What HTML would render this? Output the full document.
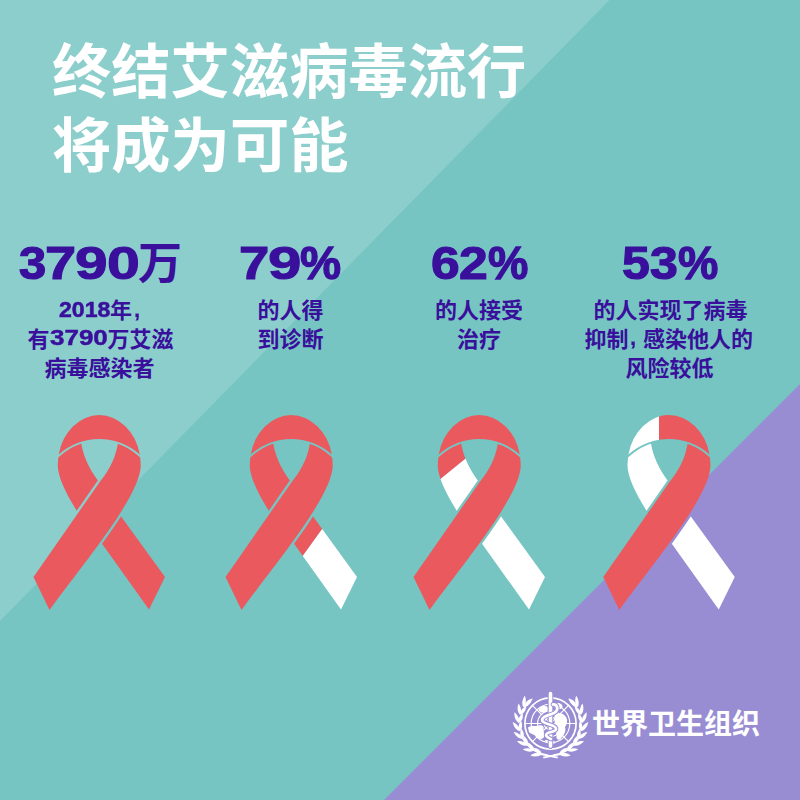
<!DOCTYPE html>
<html lang="zh-Hans">
<head>
<meta charset="utf-8">
<title>终结艾滋病毒流行将成为可能</title>
<style>
html,body{margin:0;padding:0;}
body{width:800px;height:800px;overflow:hidden;background:#76c5c2;font-family:"Liberation Sans",sans-serif;}
.card{position:relative;width:800px;height:800px;overflow:hidden;background:#76c5c2;}
.card svg.art{position:absolute;left:0;top:0;width:800px;height:800px;display:block;}
.stat,.big,.sub,footer,h1{margin:0;padding:0;font-size:0;line-height:0;}
.sr{position:absolute;left:0;top:0;width:1px;height:1px;margin:-1px;padding:0;overflow:hidden;clip:rect(0 0 0 0);clip-path:inset(50%);white-space:nowrap;border:0;font-size:1px;color:transparent;}
.d{position:absolute;display:block;margin:0;padding:0;white-space:nowrap;line-height:normal;
   font-family:"Liberation Sans",sans-serif;font-weight:700;color:#390f9c;transform-origin:0 0;}
</style>
</head>
<body>
<main class="card">
<svg class="art" viewBox="0 0 800 800" width="800" height="800" role="img" aria-label="终结艾滋病毒流行将成为可能。2018年，有3790万艾滋病毒感染者；79%的人得到诊断；62%的人接受治疗；53%的人实现了病毒抑制，感染他人的风险较低。世界卫生组织">
<defs>
<path id="rCap" d="M-40.57,39.5A41.5,50 0 0 1 40.57,39.5A60.85,60.85 0 0 0 -40.57,39.5Z"/>
<path id="rFront" d="M19.2,24C17.5,41 10.8,54.3 1.0,66.2L-65.75,162L-49.75,195C-13.90,146.00 41.50,80.60 41.50,50.00A41.5,50 0 0 0 39.59,35L30,24Z"/>
<path id="rBackUp" d="M-18.6,24C-17,40 -10,54 -0.9,66.25L4,71L-14,103L-22.08,96.41C-33.71,77.84 -41.50,61.47 -41.50,50.00A41.5,50 0 0 1 -39.59,35L-30,24Z"/>
<path id="rBackLo" d="M18.6,97L65.75,162L49.75,194.5L0.85,126Z"/>
<mask id="mCap" maskUnits="userSpaceOnUse" x="-90" y="-10" width="180" height="220"><rect x="-90" y="-10" width="180" height="220" fill="#fff"/><use href="#rCap" fill="#000" stroke="#000" stroke-width="4"/></mask>
<mask id="mBack" maskUnits="userSpaceOnUse" x="-90" y="-10" width="180" height="220"><rect x="-90" y="-10" width="180" height="220" fill="#fff"/><use href="#rCap" fill="#000" stroke="#000" stroke-width="4"/><use href="#rFront" fill="#000" stroke="#000" stroke-width="4.8"/></mask>
<clipPath id="c2"><path d="M89.25,33.25L-47.25,222.25L110,230L110,30Z"/></clipPath>
<clipPath id="c3"><path d="M-87,103.25L81,-33.25L110,-33L110,230L-87,230Z"/></clipPath>
<clipPath id="c4"><rect x="-60" y="-5" width="50" height="60"/></clipPath>
<clipPath id="c2n"><path d="M89.25,33.25L-47.25,222.25L-90,222L-90,-10L89,-10Z"/></clipPath>
<clipPath id="c3n"><path d="M-87,103.25L81,-33.25L-90,-40Z"/></clipPath>
<clipPath id="c4n"><rect x="-10" y="-5" width="70" height="60"/></clipPath>
</defs>
<polygon points="0,0 609.5,0 0,621" fill="#8bcecc"/>
<polygon points="800,384 800,800 384,800" fill="#988dd3"/>
<g id="ribbons"><g transform="translate(99.25,415)"><use href="#rCap" fill="#ea595e"/><g mask="url(#mBack)"><use href="#rBackUp" fill="#ea595e"/><use href="#rBackLo" fill="#ea595e"/></g><use href="#rFront" fill="#ea595e" mask="url(#mCap)"/></g><g transform="translate(291.25,415)"><use href="#rCap" fill="#ea595e"/><g mask="url(#mBack)"><use href="#rBackUp" fill="#ea595e"/><use href="#rBackLo" fill="#ea595e" clip-path="url(#c2n)"/><use href="#rBackLo" fill="#fff" clip-path="url(#c2)"/></g><use href="#rFront" fill="#ea595e" mask="url(#mCap)"/></g><g transform="translate(479.25,415)"><use href="#rCap" fill="#ea595e"/><g mask="url(#mBack)"><use href="#rBackUp" fill="#ea595e" clip-path="url(#c3n)"/><use href="#rBackUp" fill="#fff" clip-path="url(#c3)"/><use href="#rBackLo" fill="#fff"/></g><use href="#rFront" fill="#ea595e" mask="url(#mCap)"/></g><g transform="translate(669,415)"><use href="#rCap" fill="#ea595e" clip-path="url(#c4n)"/><use href="#rCap" fill="#fff" clip-path="url(#c4)"/><g mask="url(#mBack)"><use href="#rBackUp" fill="#fff"/><use href="#rBackLo" fill="#fff"/></g><use href="#rFront" fill="#ea595e" mask="url(#mCap)"/></g></g>
<g id="cjk" font-family="&quot;Liberation Sans&quot;, &quot;Noto Sans CJK SC&quot;, sans-serif" font-weight="700">
<text x="52" y="92.5" font-size="59.3" fill="#fff">终结艾滋病毒流行</text>
<text x="52" y="166.5" font-size="59.3" fill="#fff">将成为可能</text>
<text x="138" y="278.5" font-size="44" fill="#390f9c">万</text>
<text x="110" y="318.3" font-size="22" fill="#390f9c">年</text>
<text x="27.5" y="347" font-size="22" fill="#390f9c">有</text>
<text x="107.5" y="347" font-size="22" fill="#390f9c">万艾滋</text>
<text x="44.5" y="375.5" font-size="22" fill="#390f9c">病毒感染者</text>
<text x="257.5" y="318.3" font-size="22" fill="#390f9c">的人得</text>
<text x="257.5" y="347" font-size="22" fill="#390f9c">到诊断</text>
<text x="435" y="318.3" font-size="22" fill="#390f9c">的人接受</text>
<text x="457" y="347" font-size="22" fill="#390f9c">治疗</text>
<text x="593.5" y="318.3" font-size="22" fill="#390f9c">的人实现了病毒</text>
<text x="584.5" y="347" font-size="22" fill="#390f9c">抑制</text>
<text x="643" y="347" font-size="22" fill="#390f9c">感染他人的</text>
<text x="625.5" y="375.5" font-size="22" fill="#390f9c">风险较低</text>
<text x="592" y="733.8" font-size="28" fill="#fff">世界卫生组织</text>
</g>
<g transform="translate(550.5,723.5)" fill="none" stroke="#fff">
<circle r="25.6" stroke-width="1.7"/>
<g stroke-width="1.15"><circle r="19.3"/><circle r="12.9"/><circle r="6.4"/>
<path d="M-25.6,0H25.6M0,-25.6V25.6M-18.1,-18.1L18.1,18.1M-18.1,18.1L18.1,-18.1"/></g>
<g fill="#fff" stroke="none">
<path d="M-22.5,4C-19,1.5 -15,3 -12,2C-9,1 -6,2.5 -7,5.5C-8,8.5 -4.5,10.5 -6.5,13.5C-8.5,16.5 -12,16 -14,13C-15.5,10.5 -19,11.5 -21.5,8.5Z"/>
<path d="M4,-8C7,-11.5 13,-11 15.5,-6.5C17.5,-3 16.5,1 14.5,3.5C16,8 13,12.5 10,15.5C8,17.5 5.5,15.5 6,12.5C6.5,9.5 3.5,8 4.5,4C5.3,1 3,-4 4,-8Z"/>
<path d="M-11,-15.5C-8,-18.5 -3.5,-18.5 -2.5,-15.5C-1.5,-12.5 -5,-11 -8,-11C-11,-11 -13,-13.5 -11,-15.5Z"/>
<path d="M5,-20C8,-21.5 12.5,-19.5 12,-16.5C11.5,-14 7,-13.5 4.5,-15.5C3,-17 3.5,-19 5,-20Z"/>
<path d="M-6,17C-3,15.5 3,16 5,19C3,21.5 -3,21.5 -6,17Z"/>
</g>
<g fill="#fff" stroke="none"><path transform="translate(-8.71,30.38) rotate(172.0)" d="M0,0C2.88,-2.50 8.05,-2.00 11.50,0C8.05,2.00 2.88,2.50 0,0Z"/><path transform="translate(-8.71,30.38) rotate(216.0)" d="M0,0C2.62,-2.50 7.35,-2.00 10.50,0C7.35,2.00 2.62,2.50 0,0Z"/><path transform="translate(-16.28,27.09) rotate(187.0)" d="M0,0C2.88,-2.50 8.05,-2.00 11.50,0C8.05,2.00 2.88,2.50 0,0Z"/><path transform="translate(-16.28,27.09) rotate(231.0)" d="M0,0C2.62,-2.50 7.35,-2.00 10.50,0C7.35,2.00 2.62,2.50 0,0Z"/><path transform="translate(-22.73,21.95) rotate(202.0)" d="M0,0C2.88,-2.50 8.05,-2.00 11.50,0C8.05,2.00 2.88,2.50 0,0Z"/><path transform="translate(-22.73,21.95) rotate(246.0)" d="M0,0C2.62,-2.50 7.35,-2.00 10.50,0C7.35,2.00 2.62,2.50 0,0Z"/><path transform="translate(-27.64,15.32) rotate(217.0)" d="M0,0C2.88,-2.50 8.05,-2.00 11.50,0C8.05,2.00 2.88,2.50 0,0Z"/><path transform="translate(-27.64,15.32) rotate(261.0)" d="M0,0C2.62,-2.50 7.35,-2.00 10.50,0C7.35,2.00 2.62,2.50 0,0Z"/><path transform="translate(-30.66,7.64) rotate(232.0)" d="M0,0C2.88,-2.50 8.05,-2.00 11.50,0C8.05,2.00 2.88,2.50 0,0Z"/><path transform="translate(-30.66,7.64) rotate(276.0)" d="M0,0C2.62,-2.50 7.35,-2.00 10.50,0C7.35,2.00 2.62,2.50 0,0Z"/><path transform="translate(-31.60,-0.55) rotate(247.0)" d="M0,0C2.88,-2.50 8.05,-2.00 11.50,0C8.05,2.00 2.88,2.50 0,0Z"/><path transform="translate(-31.60,-0.55) rotate(291.0)" d="M0,0C2.62,-2.50 7.35,-2.00 10.50,0C7.35,2.00 2.62,2.50 0,0Z"/><path transform="translate(-30.38,-8.71) rotate(262.0)" d="M0,0C2.88,-2.50 8.05,-2.00 11.50,0C8.05,2.00 2.88,2.50 0,0Z"/><path transform="translate(-30.38,-8.71) rotate(306.0)" d="M0,0C2.62,-2.50 7.35,-2.00 10.50,0C7.35,2.00 2.62,2.50 0,0Z"/><path transform="translate(-27.09,-16.28) rotate(277.0)" d="M0,0C2.88,-2.50 8.05,-2.00 11.50,0C8.05,2.00 2.88,2.50 0,0Z"/><path transform="translate(-27.09,-16.28) rotate(321.0)" d="M0,0C2.62,-2.50 7.35,-2.00 10.50,0C7.35,2.00 2.62,2.50 0,0Z"/><path transform="translate(-25.24,-19.02) rotate(321.0)" d="M0,0C2.38,-2.30 6.65,-1.84 9.50,0C6.65,1.84 2.38,2.30 0,0Z"/><path transform="translate(8.71,30.38) rotate(8.0)" d="M0,0C2.88,-2.50 8.05,-2.00 11.50,0C8.05,2.00 2.88,2.50 0,0Z"/><path transform="translate(8.71,30.38) rotate(-36.0)" d="M0,0C2.62,-2.50 7.35,-2.00 10.50,0C7.35,2.00 2.62,2.50 0,0Z"/><path transform="translate(16.28,27.09) rotate(-7.0)" d="M0,0C2.88,-2.50 8.05,-2.00 11.50,0C8.05,2.00 2.88,2.50 0,0Z"/><path transform="translate(16.28,27.09) rotate(-51.0)" d="M0,0C2.62,-2.50 7.35,-2.00 10.50,0C7.35,2.00 2.62,2.50 0,0Z"/><path transform="translate(22.73,21.95) rotate(-22.0)" d="M0,0C2.88,-2.50 8.05,-2.00 11.50,0C8.05,2.00 2.88,2.50 0,0Z"/><path transform="translate(22.73,21.95) rotate(-66.0)" d="M0,0C2.62,-2.50 7.35,-2.00 10.50,0C7.35,2.00 2.62,2.50 0,0Z"/><path transform="translate(27.64,15.32) rotate(-37.0)" d="M0,0C2.88,-2.50 8.05,-2.00 11.50,0C8.05,2.00 2.88,2.50 0,0Z"/><path transform="translate(27.64,15.32) rotate(-81.0)" d="M0,0C2.62,-2.50 7.35,-2.00 10.50,0C7.35,2.00 2.62,2.50 0,0Z"/><path transform="translate(30.66,7.64) rotate(-52.0)" d="M0,0C2.88,-2.50 8.05,-2.00 11.50,0C8.05,2.00 2.88,2.50 0,0Z"/><path transform="translate(30.66,7.64) rotate(-96.0)" d="M0,0C2.62,-2.50 7.35,-2.00 10.50,0C7.35,2.00 2.62,2.50 0,0Z"/><path transform="translate(31.60,-0.55) rotate(-67.0)" d="M0,0C2.88,-2.50 8.05,-2.00 11.50,0C8.05,2.00 2.88,2.50 0,0Z"/><path transform="translate(31.60,-0.55) rotate(-111.0)" d="M0,0C2.62,-2.50 7.35,-2.00 10.50,0C7.35,2.00 2.62,2.50 0,0Z"/><path transform="translate(30.38,-8.71) rotate(-82.0)" d="M0,0C2.88,-2.50 8.05,-2.00 11.50,0C8.05,2.00 2.88,2.50 0,0Z"/><path transform="translate(30.38,-8.71) rotate(-126.0)" d="M0,0C2.62,-2.50 7.35,-2.00 10.50,0C7.35,2.00 2.62,2.50 0,0Z"/><path transform="translate(27.09,-16.28) rotate(-97.0)" d="M0,0C2.88,-2.50 8.05,-2.00 11.50,0C8.05,2.00 2.88,2.50 0,0Z"/><path transform="translate(27.09,-16.28) rotate(-141.0)" d="M0,0C2.62,-2.50 7.35,-2.00 10.50,0C7.35,2.00 2.62,2.50 0,0Z"/><path transform="translate(25.24,-19.02) rotate(-141.0)" d="M0,0C2.38,-2.30 6.65,-1.84 9.50,0C6.65,1.84 2.38,2.30 0,0Z"/>
<path d="M-12,29.2L7.5,33.2L7,35L-12.5,31Z"/><path d="M12,29.2L-7.5,33.2L-7,35L12.5,31Z"/></g>
<path d="M-29.6,11A31.6,31.6 0 0 0 -3,31.4M29.6,11A31.6,31.6 0 0 1 3,31.4" stroke-width="1.4"/>
<path d="M0,-30V22.6" stroke="#988dd3" stroke-width="5.6" stroke-linecap="round"/>
<path d="M0,-30V22.6" stroke-width="3.6" stroke-linecap="round"/>
<path d="M2.4,-19.2C7,-19.6 8.6,-13.6 4,-10.8C-1,-8 -8.4,-8 -8.4,-3.2C-8.4,1 5.6,0.6 5.6,5.4C5.6,9 -4.4,8 -4.4,11.4C-4.4,13.4 -1.5,14.4 0.5,15.6" stroke="#988dd3" stroke-width="4.6" stroke-linecap="round"/>
<path d="M2.4,-19.2C7,-19.6 8.6,-13.6 4,-10.8C-1,-8 -8.4,-8 -8.4,-3.2C-8.4,1 5.6,0.6 5.6,5.4C5.6,9 -4.4,8 -4.4,11.4C-4.4,13.4 -1.5,14.4 0.5,15.6" stroke-width="2.7" stroke-linecap="round"/>
</g>
</svg>
<h1 class="sr">终结艾滋病毒流行<br>将成为可能</h1>
<section class="stat" id="stat-1">
<h2 class="big"><span class="d" style="left:18.63px;top:235.65px;font-size:45.9px;-webkit-text-stroke:1.221px #390f9c;transform:scaleX(1.0651)">3</span><span class="d" style="left:44.84px;top:235.65px;font-size:45.9px;-webkit-text-stroke:1.065px #390f9c;transform:scaleX(1.2211)">7</span><span class="d" style="left:74.82px;top:235.65px;font-size:45.9px;-webkit-text-stroke:1.018px #390f9c;transform:scaleX(1.2774)">9</span><span class="d" style="left:106.81px;top:235.65px;font-size:45.9px;-webkit-text-stroke:1.010px #390f9c;transform:scaleX(1.2873)">0</span><span class="sr">万</span></h2>
<p class="sub"><span class="d" style="left:58.77px;top:296.88px;font-size:22px;-webkit-text-stroke:0.524px #390f9c;transform:scaleX(1.0494)">2018</span><span class="sr">年</span><span class="d" style="left:134.18px;top:296.88px;font-size:22px;-webkit-text-stroke:0.197px #390f9c;transform:scaleX(1.0167)">,</span><br><span class="sr">有</span><span class="d" style="left:49.98px;top:325.48px;font-size:22px;-webkit-text-stroke:0.466px #390f9c;transform:scaleX(1.1813)">3790</span><span class="sr">万艾滋<br>病毒感染者</span></p>
</section>
<section class="stat" id="stat-2">
<h2 class="big"><span class="d" style="left:239.41px;top:235.65px;font-size:45.9px;-webkit-text-stroke:1.094px #390f9c;transform:scaleX(1.1886)">7</span><span class="d" style="left:267.87px;top:235.65px;font-size:45.9px;-webkit-text-stroke:0.993px #390f9c;transform:scaleX(1.3089)">9</span><span class="d" style="left:300.40px;top:235.65px;font-size:45.9px;-webkit-text-stroke:1.292px #390f9c;transform:scaleX(1.0063)">%</span></h2>
<p class="sub"><span class="sr">的人得<br>到诊断</span></p>
</section>
<section class="stat" id="stat-3">
<h2 class="big"><span class="d" style="left:430.56px;top:235.65px;font-size:45.9px;-webkit-text-stroke:1.158px #390f9c;transform:scaleX(1.1222)">6</span><span class="d" style="left:458.86px;top:235.65px;font-size:45.9px;-webkit-text-stroke:1.154px #390f9c;transform:scaleX(1.1268)">2</span><span class="d" style="left:488.42px;top:235.65px;font-size:45.9px;-webkit-text-stroke:1.316px #390f9c;transform:scaleX(0.9881)">%</span></h2>
<p class="sub"><span class="sr">的人接受<br>治疗</span></p>
</section>
<section class="stat" id="stat-4">
<h2 class="big"><span class="d" style="left:621.61px;top:235.65px;font-size:45.9px;-webkit-text-stroke:1.192px #390f9c;transform:scaleX(1.0903)">5</span><span class="d" style="left:649.50px;top:235.65px;font-size:45.9px;-webkit-text-stroke:1.191px #390f9c;transform:scaleX(1.0914)">3</span><span class="d" style="left:677.72px;top:235.65px;font-size:45.9px;-webkit-text-stroke:1.316px #390f9c;transform:scaleX(0.9881)">%</span></h2>
<p class="sub"><span class="sr">的人实现了病毒<br>抑制</span><span class="d" style="left:629.88px;top:325.48px;font-size:22px;-webkit-text-stroke:0.197px #390f9c;transform:scaleX(1.0167)">,</span><span class="sr"> 感染他人的<br>风险较低</span></p>
</section>
<footer><p class="sr">世界卫生组织</p></footer>
</main>
</body>
</html>
